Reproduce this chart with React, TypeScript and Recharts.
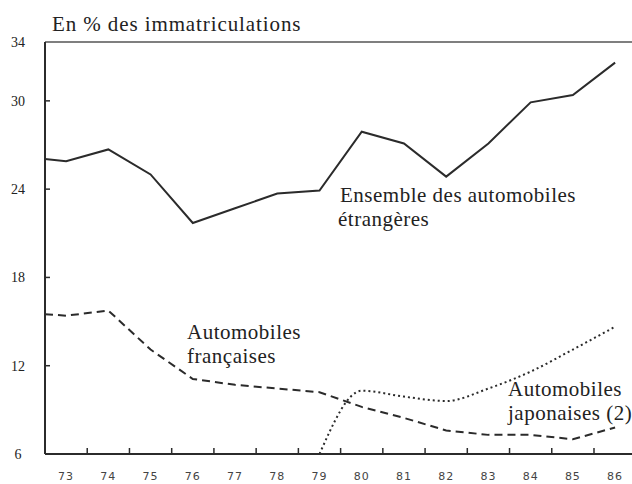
import { LineChart, Line, XAxis, YAxis, ReferenceLine } from 'recharts';

// point where the curves leave the vertical axis
const START_YEAR = 72.5;
const ETRANGERES_START = 26.05;
const FRANCAISES_START = 15.5;

const YEARS = [73, 74, 75, 76, 77, 78, 79, 80, 81, 82, 83, 84, 85, 86];
const ETRANGERES = [25.9, 26.7, 25.0, 21.7, 22.7, 23.7, 23.9, 27.9, 27.1, 24.85, 27.1, 29.9, 30.4, 32.6];
const FRANCAISES = [15.4, 15.75, 13.1, 11.1, 10.7, 10.45, 10.2, 9.2, 8.45, 7.6, 7.3, 7.3, 7.0, 7.8];
const JAPONAISES = [null, null, null, null, null, null, 6, 10.3, 9.9, 9.6, 10.45, 11.6, 13.1, 14.65];

const Y_TICKS = [6, 12, 18, 24, 30, 34];
// little marks between the years on the bottom axis
const X_MARKS = [73.5, 74.5, 75.5, 76.5, 77.5, 78.5, 79.5, 80.5, 81.5, 82.5, 83.5, 84.5, 85.5];

const data = [
  { year: START_YEAR, etr: ETRANGERES_START, fr: FRANCAISES_START, jap: null },
  ...YEARS.map((year, i) => ({ year, etr: ETRANGERES[i], fr: FRANCAISES[i], jap: JAPONAISES[i] })),
];

const INK = '#2b2b2b';
const SERIF = 'Liberation Serif, DejaVu Serif, Times New Roman, serif';

const XTick = ({ x, y, payload }: any) => {
  if (!Number.isInteger(payload.value)) {
    return <line x1={x} y1={y} x2={x} y2={y - 6} stroke={INK} strokeWidth={1.5} />;
  }
  return (
    <text x={x} y={y + 26} textAnchor="middle" fontSize={11} fontFamily="DejaVu Sans" fill="#444" letterSpacing={1}>
      {payload.value}
    </text>
  );
};

const YTick = ({ x, y, payload }: any) => (
  <g>
    {payload.value > 6 && payload.value < 34 && (
      <line x1={x} y1={y} x2={x + 5} y2={y} stroke={INK} strokeWidth={1.5} />
    )}
    <text x={x - 27} y={y} dy="0.35em" textAnchor="middle" fontSize={14} fontFamily={SERIF} fill="#222">
      {payload.value}
    </text>
  </g>
);

const Note = ({ x, y, children, spacing = 0.5 }: any) => (
  <text x={x} y={y} fontFamily={SERIF} fontSize={21} letterSpacing={spacing} fill="#222">
    {children}
  </text>
);

export default function App() {
  return (
    <div style={{ position: 'absolute', left: 0, top: 0, width: 632, height: 484, background: '#fff' }}>
      <LineChart width={632} height={484} data={data} margin={{ top: 42, right: 0, bottom: 0, left: 0 }}>
        <XAxis
          type="number"
          dataKey="year"
          domain={[72.5, 86.4]}
          ticks={[...YEARS, ...X_MARKS]}
          interval={0}
          tick={<XTick />}
          tickLine={false}
          tickSize={0}
          tickMargin={0}
          height={30}
          axisLine={{ stroke: INK, strokeWidth: 2 }}
        />
        <YAxis
          type="number"
          domain={[6, 34]}
          ticks={Y_TICKS}
          interval={0}
          tick={<YTick />}
          tickLine={false}
          tickSize={0}
          tickMargin={0}
          width={45}
          axisLine={{ stroke: INK, strokeWidth: 2 }}
        />
        <ReferenceLine y={34} stroke="#555" strokeWidth={1.5} />
        <Line type="linear" dataKey="etr" stroke={INK} strokeWidth={2} dot={false} isAnimationActive={false} />
        <Line type="linear" dataKey="fr" stroke={INK} strokeWidth={2} strokeDasharray="8 5" dot={false} isAnimationActive={false} />
        <Line type="monotone" dataKey="jap" stroke={INK} strokeWidth={2} strokeDasharray="2 3" dot={false} isAnimationActive={false} />
      </LineChart>
      <svg width={632} height={484} style={{ position: 'absolute', left: 0, top: 0, pointerEvents: 'none' }}>
        <Note x={52} y={31} spacing={0.9}>En % des immatriculations</Note>
        <Note x={340} y={202}>Ensemble des automobiles</Note>
        <Note x={338} y={226}>étrangères</Note>
        <Note x={187} y={339}>Automobiles</Note>
        <Note x={187} y={363}>françaises</Note>
        <Note x={508} y={396}>Automobiles</Note>
        <Note x={508} y={420}>japonaises (2)</Note>
      </svg>
    </div>
  );
}
